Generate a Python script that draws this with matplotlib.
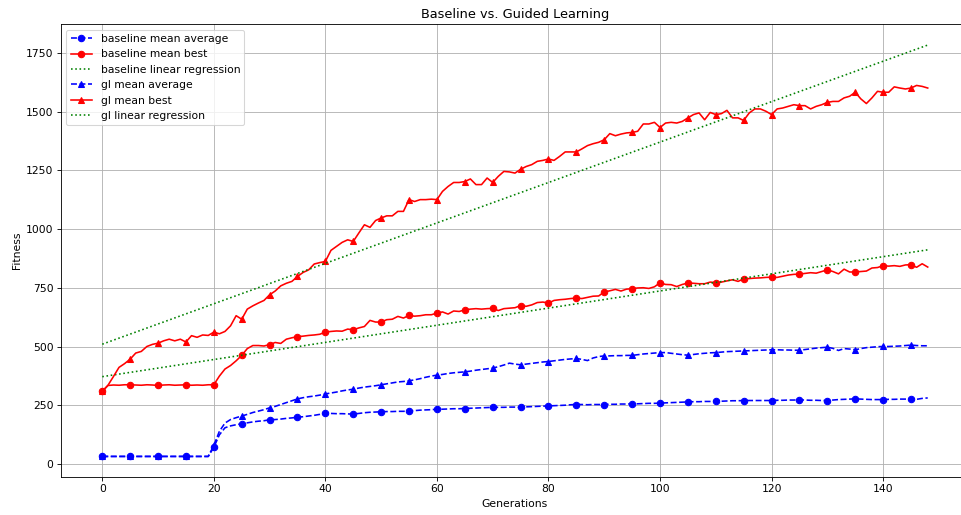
import numpy as np
import matplotlib
matplotlib.use("Agg")
import matplotlib.pyplot as plt

generations = list(range(149))

baseline_mean_average = [
    33, 33, 33, 33, 33, 33, 33, 33, 33, 33,
    33, 33, 33, 33, 33, 33, 33, 33, 33, 33,
    72, 125, 155, 163, 168, 172, 176, 180, 183, 185,
    189, 190, 192, 195, 197, 200, 202, 205, 208, 212,
    217, 216, 215, 215, 214, 213, 216, 219, 221, 222,
    223, 224, 224, 225, 225, 226, 228, 230, 231, 232,
    234, 234, 235, 236, 236, 237, 238, 239, 240, 241,
    242, 242, 242, 243, 243, 242, 244, 245, 246, 247,
    248, 249, 250, 251, 253, 254, 254, 253, 254, 254,
    254, 255, 255, 256, 256, 257, 257, 258, 259, 259,
    260, 261, 262, 263, 264, 265, 266, 266, 267, 267,
    268, 268, 269, 270, 270, 271, 271, 271, 271, 271,
    271, 272, 272, 273, 273, 274, 273, 272, 272, 271,
    271, 273, 275, 276, 277, 278, 277, 276, 275, 275,
    275, 276, 276, 277, 277, 278, 276, 280, 282,
]

baseline_mean_best = [
    310, 335, 337, 336, 338, 338, 337, 336, 338, 337,
    335, 337, 338, 336, 337, 338, 336, 337, 336, 338,
    338, 375, 405, 420, 440, 463, 492, 505, 505, 503,
    509, 518, 514, 532, 538, 543, 545, 548, 550, 553,
    562, 565, 567, 566, 575, 572, 580, 586, 612, 605,
    605, 615, 617, 629, 622, 633, 630, 632, 636, 636,
    643, 648, 639, 652, 650, 657, 660, 662, 660, 662,
    663, 654, 662, 664, 666, 675, 672, 678, 688, 690,
    686, 697, 700, 702, 705, 707, 705, 710, 715, 716,
    733, 738, 744, 737, 745, 747, 750, 751, 748, 755,
    772, 765, 764, 756, 765, 771, 770, 768, 768, 775,
    773, 775, 780, 785, 778, 789, 790, 792, 793, 795,
    796, 795, 800, 805, 808, 809, 812, 815, 813, 820,
    827, 820, 810, 830, 818, 818, 820, 822, 835, 837,
    845, 843, 845, 842, 848, 849, 838, 853, 839,
]

gl_mean_average = [
    33, 33, 33, 33, 33, 33, 33, 33, 33, 33,
    33, 33, 33, 33, 33, 33, 33, 33, 33, 33,
    80, 140, 175, 190, 198, 205, 212, 220, 226, 232,
    240, 246, 254, 262, 270, 278, 283, 287, 290, 294,
    299, 303, 307, 312, 316, 319, 324, 328, 331, 334,
    338, 342, 346, 350, 352, 355, 359, 364, 370, 375,
    379, 382, 386, 389, 391, 393, 396, 400, 403, 406,
    409, 415, 422, 430, 426, 423, 426, 429, 432, 435,
    437, 440, 443, 446, 448, 450, 446, 441, 452, 458,
    461, 461, 462, 462, 463, 463, 466, 469, 471, 473,
    475, 475, 472, 469, 466, 464, 467, 470, 472, 474,
    475, 477, 479, 480, 481, 482, 483, 484, 485, 486,
    487, 487, 486, 486, 485, 485, 488, 491, 494, 496,
    498, 493, 484, 492, 490, 487, 492, 496, 498, 500,
    501, 501, 502, 503, 505, 507, 505, 504, 504,
]

gl_mean_best = [
    310, 335, 373, 412, 428, 447, 473, 480, 501, 510,
    515, 525, 532, 525, 532, 520, 547, 540, 550, 548,
    562, 555, 565, 589, 632, 617, 660, 674, 686, 697,
    721, 737, 759, 770, 778, 799, 816, 827, 852, 858,
    863, 910, 927, 944, 955, 948, 984, 1019, 1008, 1037,
    1048, 1057, 1057, 1076, 1076, 1126, 1118, 1126, 1126, 1128,
    1126, 1161, 1182, 1199, 1199, 1203, 1214, 1190, 1190, 1218,
    1199, 1225, 1246, 1244, 1239, 1255, 1267, 1275, 1289, 1293,
    1299, 1293, 1310, 1329, 1329, 1329, 1342, 1356, 1364, 1370,
    1381, 1407, 1398, 1405, 1410, 1412, 1417, 1448, 1448, 1455,
    1433, 1452, 1455, 1452, 1459, 1474, 1488, 1495, 1466, 1497,
    1488, 1492, 1506, 1474, 1474, 1463, 1495, 1512, 1512, 1502,
    1488, 1512, 1516, 1523, 1530, 1526, 1526, 1512, 1523, 1530,
    1540, 1544, 1544, 1559, 1566, 1583, 1555, 1535, 1559, 1587,
    1583, 1583, 1606, 1601, 1597, 1601, 1612, 1608, 1601,
]

x = np.array(generations)
b_fit = np.poly1d(np.polyfit(x, baseline_mean_best, 1))
g_fit = np.poly1d(np.polyfit(x, gl_mean_best, 1))

dpi = 77
W, H = 961, 515
fig = plt.figure(figsize=(W / dpi, H / dpi), dpi=dpi)
left_px, right_px, top_px, bottom_px = 61, 969, 24.5, 477
ax = fig.add_axes([left_px / W, 1 - bottom_px / H,
                   (right_px - left_px) / W, (bottom_px - top_px) / H])

ax.plot(x, baseline_mean_average, 'bo--', markevery=5, label='baseline mean average')
ax.plot(x, baseline_mean_best, 'ro-', markevery=5, label='baseline mean best')
ax.plot(x, b_fit(x), 'g:', label='baseline linear regression')
ax.plot(x, gl_mean_average, 'b^--', markevery=5, label='gl mean average')
ax.plot(x, gl_mean_best, 'r^-', markevery=5, label='gl mean best')
ax.plot(x, g_fit(x), 'g:', label='gl linear regression')

ax.set_title('Baseline vs. Guided Learning')
ax.set_xlabel('Generations')
ax.set_ylabel('Fitness')
ax.grid(True)
ax.legend(loc='upper left')

fig.savefig('out.png', dpi=dpi)
